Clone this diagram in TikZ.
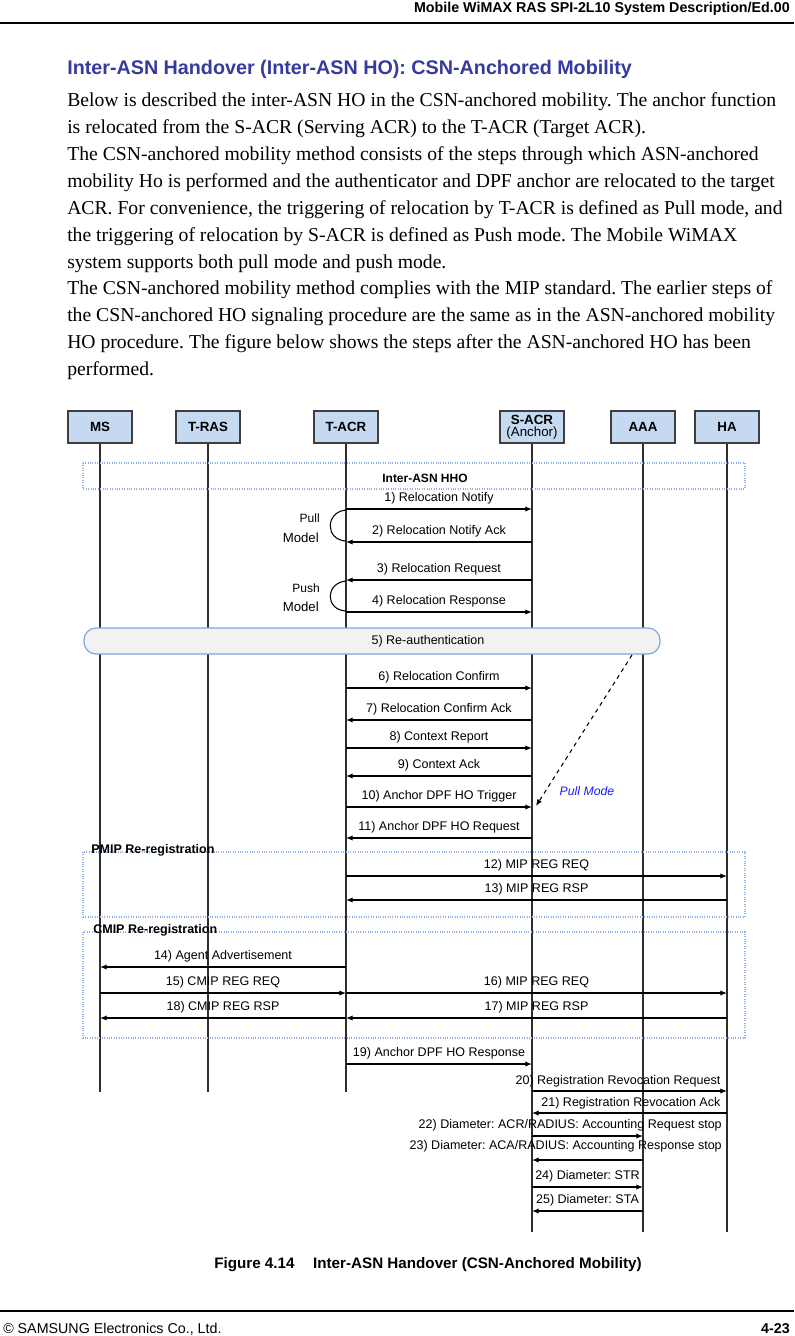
\documentclass[tikz,border=0pt]{standalone}
\usepackage{fontspec}
\setmainfont{Liberation Serif}
\setsansfont{Liberation Sans}
\usetikzlibrary{arrows.meta}
\frenchspacing

\definecolor{headblue}{HTML}{353A9E}
\definecolor{boxfill}{HTML}{C5D9F1}
\definecolor{boxline}{HTML}{3F3F3F}
\definecolor{lifegray}{HTML}{2E2E2E}
\definecolor{frameblue}{HTML}{8EB4E3}
\definecolor{reauthfill}{HTML}{F2F2F2}
\definecolor{reauthline}{HTML}{7EA6D8}
\definecolor{pullblue}{HTML}{1A1AFF}

\tikzset{
  entity/.style={draw=boxline, fill=boxfill, line width=0.8pt, minimum width=48pt,
    minimum height=24pt, inner sep=1pt, align=center,
    font=\sffamily\bfseries\fontsize{10}{11}\selectfont},
  life/.style={line width=1.4pt, draw=lifegray},
  msg/.style={line width=0.9pt, -{Latex[length=5pt,width=4pt]}},
  lbl/.style={font=\sffamily\fontsize{9.4}{11}\selectfont, inner sep=1.5pt},
  framebox/.style={draw=frameblue, densely dotted, line width=0.8pt},
  framelbl/.style={font=\sffamily\bfseries\fontsize{9.4}{11}\selectfont, inner sep=0pt, anchor=west},
  bodyline/.style={anchor=base west, inner sep=0pt, font=\fontsize{14.75}{17}\selectfont},
}

\begin{document}
\begin{tikzpicture}[x=0.75pt, y=-0.75pt]
  \useasboundingbox (0,0) rectangle (794,1336);

  % page header
  \node[anchor=base east, inner sep=0pt, font=\sffamily\bfseries\fontsize{10.7}{12}\selectfont]
    (pagehead) at (790,12) {Mobile WiMAX RAS SPI-2L10 System Description/Ed.00};
  \draw[line width=1.1pt] (0,23) -- (794,23);

  % section heading and text
  \node[anchor=base west, inner sep=0pt, text=headblue, font=\sffamily\bfseries\fontsize{14.8}{17}\selectfont]
    (heading) at (67,74) {Inter-ASN Handover (Inter-ASN HO): CSN-Anchored Mobility};
  \node[bodyline] (line1) at (67,106) {Below is described the inter-ASN HO in the CSN-anchored mobility. The anchor function};
  \node[bodyline] (line2) at (67,133) {is relocated from the S-ACR (Serving ACR) to the T-ACR (Target ACR).};
  \node[bodyline] (line3) at (67,160) {The CSN-anchored mobility method consists of the steps through which ASN-anchored};
  \node[bodyline] (line4) at (67,187) {mobility Ho is performed and the authenticator and DPF anchor are relocated to the target};
  \node[bodyline] (line5) at (67,214) {ACR. For convenience, the triggering of relocation by T-ACR is defined as Pull mode, and};
  \node[bodyline] (line6) at (67,241) {the triggering of relocation by S-ACR is defined as Push mode. The Mobile WiMAX};
  \node[bodyline] (line7) at (67,268) {system supports both pull mode and push mode.};
  \node[bodyline] (line8) at (67,294) {The CSN-anchored mobility method complies with the MIP standard. The earlier steps of};
  \node[bodyline] (line9) at (67,321) {the CSN-anchored HO signaling procedure are the same as in the ASN-anchored mobility};
  \node[bodyline] (line10) at (67,348) {HO procedure. The figure below shows the steps after the ASN-anchored HO has been};
  \node[bodyline] (line11) at (67,375) {performed.};

  % entities
  \node[entity] (ms) at (100,427) {MS};
  \node[entity] (tras) at (208,427) {T-RAS};
  \node[entity] (tacr) at (346,427) {T-ACR};
  \node[entity] (sacr) at (532,427) {S-ACR\\[-2pt]\mdseries (Anchor)};
  \node[entity] (aaa) at (643,427) {AAA};
  \node[entity] (ha) at (727,427) {HA};

  \foreach \n/\e in {ms/1092, tras/1092, tacr/1092, sacr/1232, aaa/1232, ha/1232}
    \draw[life] (\n.south) -- (\n.south |- 0,\e);

  % inter-ASN HHO
  \draw[framebox] (83,463) rectangle (745,489);
  \node[font=\sffamily\bfseries\fontsize{9}{11}\selectfont] (hho) at (425,478) {Inter-ASN HHO};

  \draw[msg] (tacr |- 0,509) -- node[lbl,above=1.5pt] (m1) {1) Relocation Notify} (sacr |- 0,509);
  \draw[msg] (sacr |- 0,542) -- node[lbl,above=1.5pt] (m2) {2) Relocation Notify Ack} (tacr |- 0,542);
  \draw[msg] (sacr |- 0,580) -- node[lbl,above=1.5pt] (m3) {3) Relocation Request} (tacr |- 0,580);
  \draw[msg] (tacr |- 0,612) -- node[lbl,above=1.5pt] (m4) {4) Relocation Response} (sacr |- 0,612);

  % pull / push brackets
  \draw[line width=0.8pt] (tacr |- 0,510) .. controls (325,512) and (325,540) .. (tacr |- 0,541);
  \draw[line width=0.8pt] (tacr |- 0,581) .. controls (325,583) and (325,610) .. (tacr |- 0,611);
  \node[anchor=east, inner sep=0pt, font=\sffamily\fontsize{9}{11}\selectfont] (pull) at (320,518) {Pull};
  \node[anchor=east, inner sep=0pt, font=\sffamily\fontsize{9.9}{11}\selectfont] (pullmodel) at (319,538) {Model};
  \node[anchor=east, inner sep=0pt, font=\sffamily\fontsize{9}{11}\selectfont] (push) at (320,588) {Push};
  \begin{scope}
    \clip (260,595) rectangle (324,611);
    \node[anchor=east, inner sep=0pt, font=\sffamily\fontsize{9.9}{11}\selectfont] (pushmodel) at (319,607) {Model};
  \end{scope}

  % re-authentication
  \draw[fill=reauthfill, draw=reauthline, line width=0.9pt, rounded corners=9pt] (84,628) rectangle (660,654);
  \node[lbl] (m5) at (428,641) {5) Re-authentication};

  \draw[msg] (tacr |- 0,688) -- node[lbl,above=1.5pt] (m6) {6) Relocation Confirm} (sacr |- 0,688);
  \draw[msg] (sacr |- 0,720) -- node[lbl,above=1.5pt] (m7) {7) Relocation Confirm Ack} (tacr |- 0,720);
  \draw[msg] (tacr |- 0,748) -- node[lbl,above=1.5pt] (m8) {8) Context Report} (sacr |- 0,748);
  \draw[msg] (sacr |- 0,776) -- node[lbl,above=1.5pt] (m9) {9) Context Ack} (tacr |- 0,776);
  \draw[msg] (tacr |- 0,807) -- node[lbl,above=1.5pt] (m10) {10) Anchor DPF HO Trigger} (sacr |- 0,807);
  \draw[msg] (sacr |- 0,838) -- node[lbl,above=1.5pt] (m11) {11) Anchor DPF HO Request} (tacr |- 0,838);

  % pull mode trigger
  \coordinate (pullstart) at (632,655);
  \coordinate (pullend) at (536,806);
  \draw[dashed, line width=0.8pt, -{Latex[length=5pt,width=4pt]}] (pullstart) -- (pullend);
  \node[font=\sffamily\itshape\fontsize{9.2}{11}\selectfont, text=pullblue] (pullmode) at (587,791) {Pull Mode};

  % PMIP re-registration
  \draw[framebox] (83,852) rectangle (745,917);
  \node[framelbl] (pmip) at (91,850) {PMIP Re-registration};
  \draw[msg] (tacr |- 0,876) -- node[lbl,above=1.5pt] (m12) {12) MIP REG REQ} (ha |- 0,876);
  \draw[msg] (ha |- 0,900) -- node[lbl,above=1.5pt] (m13) {13) MIP REG RSP} (tacr |- 0,900);

  % CMIP re-registration
  \draw[framebox] (83,932) rectangle (745,1038);
  \node[framelbl] (cmip) at (93,930) {CMIP Re-registration};
  \draw[msg] (tacr |- 0,967) -- node[lbl,above=1.5pt] (m14) {14) Agent Advertisement} (ms |- 0,967);
  \draw[msg] (ms |- 0,993) -- node[lbl,above=1.5pt] (m15) {15) CMIP REG REQ} (tacr |- 0,993);
  \draw[msg] (tacr |- 0,993) -- node[lbl,above=1.5pt] (m16) {16) MIP REG REQ} (ha |- 0,993);
  \draw[msg] (ha |- 0,1018) -- node[lbl,above=1.5pt] (m17) {17) MIP REG RSP} (tacr |- 0,1018);
  \draw[msg] (tacr |- 0,1018) -- node[lbl,above=1.5pt] (m18) {18) CMIP REG RSP} (ms |- 0,1018);

  % anchor relocation and revocation
  \draw[msg] (tacr |- 0,1064) -- node[lbl,above=1.5pt] (m19) {19) Anchor DPF HO Response} (sacr |- 0,1064);
  \draw[msg] (sacr |- 0,1091) -- node[lbl,pos=1,anchor=south east,xshift=-3pt,yshift=1pt] (m20) {20) Registration Revocation Request} (ha |- 0,1091);
  \draw[msg] (ha |- 0,1113) -- node[lbl,pos=0,anchor=south east,xshift=-3pt,yshift=1pt] (m21) {21) Registration Revocation Ack} (sacr |- 0,1113);
  \node[lbl,anchor=east] (m22) at (724,1125) {22) Diameter: ACR/RADIUS: Accounting Request stop};
  \draw[msg] (sacr |- 0,1136) -- (aaa |- 0,1136);
  \node[lbl,anchor=east] (m23) at (724,1146) {23) Diameter: ACA/RADIUS: Accounting Response stop};
  \draw[msg] (aaa |- 0,1160) -- (sacr |- 0,1160);
  \draw[msg] (sacr |- 0,1187) -- node[lbl,above=1.5pt] (m24) {24) Diameter: STR} (aaa |- 0,1187);
  \draw[msg] (aaa |- 0,1211) -- node[lbl,above=1.5pt] (m25) {25) Diameter: STA} (sacr |- 0,1211);

  % caption and footer
  \node[anchor=base west, inner sep=0pt, font=\sffamily\bfseries\fontsize{11.4}{13}\selectfont]
    (caption) at (214,1268) {Figure 4.14\hspace{14pt}Inter-ASN Handover (CSN-Anchored Mobility)};
  \draw[line width=1.5pt] (0,1311) -- (794,1311);
  \node[anchor=base west, inner sep=0pt, font=\sffamily\fontsize{10.7}{12}\selectfont]
    (copyright) at (3,1333) {© SAMSUNG Electronics Co., Ltd.};
  \node[anchor=base east, inner sep=0pt, font=\sffamily\bfseries\fontsize{10.7}{12}\selectfont]
    (pagenum) at (790,1333) {4-23};
\end{tikzpicture}
\end{document}
